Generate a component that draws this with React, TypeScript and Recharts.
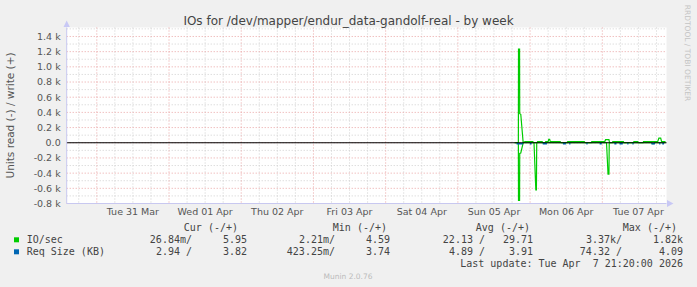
import React from 'react';
import { LineChart, Line, XAxis, YAxis, CartesianGrid, ReferenceLine } from 'recharts';

// ---- text ----
const TITLE = 'IOs for /dev/mapper/endur_data-gandolf-real - by week';
const Y_LABEL = 'Units read (-) / write (+)';
const WATERMARK = 'RRDTOOL / TOBI OETIKER';
const FOOTER = 'Munin 2.0.76';
const LAST_UPDATE = 'Last update: Tue Apr  7 21:20:00 2026';

// ---- axes (x in hours since Mon 30 Mar 00:00) ----
const X_DOMAIN: [number, number] = [14.0, 213.33];
const DAY_TICKS = [36, 60, 84, 108, 132, 156, 180, 204];
const DAY_LABELS = ['Tue 31 Mar', 'Wed 01 Apr', 'Thu 02 Apr', 'Fri 03 Apr', 'Sat 04 Apr', 'Sun 05 Apr', 'Mon 06 Apr', 'Tue 07 Apr'];
const MIDNIGHTS = [24, 48, 72, 96, 120, 144, 168, 192];
const SIX_HOURS = [18, 30, 36, 42, 54, 60, 66, 78, 84, 90, 102, 108, 114, 126, 132, 138, 150, 156, 162, 174, 180, 186, 198, 204, 210];

const Y_DOMAIN: [number, number] = [-800, 1518];
const Y_TICKS = [-800, -600, -400, -200, 0, 200, 400, 600, 800, 1000, 1200, 1400];
const Y_TICK_LABELS = ['-0.8 k', '-0.6 k', '-0.4 k', '-0.2 k', '0.0', '0.2 k', '0.4 k', '0.6 k', '0.8 k', '1.0 k', '1.2 k', '1.4 k'];
const Y_MINOR = [-700, -500, -300, -100, 100, 300, 500, 700, 900, 1100, 1300, 1500];

// ---- series: IO/sec write (+) ----
const ioWrite: [number, number][] = [
  [162.9, 0], [164.1, 0], [164.15, 1235], [164.5, 1235], [164.55, 382], [164.9, 375], [165.7, 0],
  [166.3, 15], [168.9, 15], [169.2, 0], [170.3, 0], [170.5, 15], [172.0, 15], [172.2, 0], [173.0, 0],
  [173.2, 15], [174.0, 15], [174.2, 45], [174.5, 45], [174.7, 15], [178.0, 15], [178.3, 0], [180.3, 0],
  [180.5, 15], [186.0, 15], [186.3, 0], [188.3, 0], [188.5, 15], [192.8, 15], [193.1, 40], [194.2, 40],
  [194.4, 0], [195.3, 0], [195.5, 15], [199.0, 15], [199.2, 0], [202.3, 0], [202.5, 15], [203.8, 15],
  [204.0, 0], [205.5, 0], [205.7, 15], [210.4, 15], [210.8, 62], [211.4, 62], [211.7, 15], [213.0, 15],
];

// ---- series: IO/sec read (-) ----
const ioRead: [number, number][] = [
  [162.9, 0], [164.1, 0], [164.15, -760], [164.5, -760], [164.55, -141], [164.9, -135], [165.7, 0],
  [169.3, 0], [169.9, -620], [170.1, -620], [170.2, 0], [193.4, 0], [193.9, -415], [194.2, -415],
  [194.3, 0], [208.4, 0], [208.6, -12], [209.1, -12], [209.3, 0], [213.0, 0],
];

// ---- series: Req Size (KB) read (-), visible fragments ----
const reqRead: [number, number][] = [
  [163.5, -12], [165.7, -12], [167.9, -12], [168.5, -12], [172.2, -12], [173.6, -12], [178.9, -12], [179.9, -12],
  [181.0, -12], [181.4, -12], [186.7, -12], [187.1, -12], [191.1, -12], [191.8, -12], [196.0, -12], [196.7, -12],
  [197.7, -12], [198.8, -12], [200.3, -12], [200.7, -12], [202.0, -12], [202.4, -12], [208.3, -12], [209.5, -12],
  [210.9, -12], [211.3, -12], [211.9, -12], [212.5, -12],
];

// ---- legend table ----
const LEGEND_HEADERS = ['Cur (-/+)', 'Min (-/+)', 'Avg (-/+)', 'Max (-/+)'];
const LEGEND_NAMES = ['IO/sec', 'Req Size (KB)'];
const LEGEND_COLORS = ['#00cc00', '#0066b3'];
const LEGEND_VALUES = [
  ['26.84m/', '5.95', '2.21m/', '4.59', '22.13 /', '29.71', '3.37k/', '1.82k'],
  ['2.94 /', '3.82', '423.25m/', '3.74', '4.89 /', '3.91', '74.32 /', '4.09'],
];

const toRows = (pts: [number, number][]) => pts.map(([t, v]) => ({ t, v }));
const toDashes = (pts: [number, number][]) => {
  const out: { t: number; v: number | null }[] = [];
  for (let i = 0; i < pts.length; i += 2) {
    out.push({ t: pts[i][0], v: pts[i][1] });
    out.push({ t: pts[i + 1][0], v: pts[i + 1][1] });
    out.push({ t: pts[i + 1][0] + 0.01, v: null });
  }
  return out;
};

const writeRows = toRows(ioWrite);
const readRows = toRows(ioRead);
const reqRows = toDashes(reqRead);

const MONO = '"DejaVu Sans Mono", monospace';
const SANS = '"DejaVu Sans", sans-serif';

const HEADER_END = [238, 387, 530, 677];
const VALUE_END = [192, 247, 335, 390, 485, 533, 622, 683];

export default function App() {
  return (
    <div style={{ position: 'absolute', left: 0, top: 0, width: 697, height: 287, background: '#f0f0f0', overflow: 'hidden' }}>
      <LineChart
        width={697}
        height={287}
        margin={{ top: 27.5, right: 30.5, left: 0, bottom: 63.5 }}
      >
        <CartesianGrid
          horizontalValues={Y_MINOR}
          verticalValues={SIX_HOURS}
          stroke="#cfcfcf"
          strokeDasharray="1 2"
          fill="#ffffff"
        />
        <CartesianGrid
          horizontalValues={Y_TICKS}
          verticalValues={MIDNIGHTS}
          stroke="#e9a3a3"
          strokeDasharray="1 2"
        />
        <XAxis
          dataKey="t"
          type="number"
          domain={X_DOMAIN}
          ticks={DAY_TICKS}
          allowDataOverflow
          tickFormatter={(v: number) => DAY_LABELS[DAY_TICKS.indexOf(v)] ?? ''}
          tickLine={false}
          tickSize={0}
          tickMargin={5}
          height={20}
          axisLine={{ stroke: '#c8c8f0' }}
          tick={{ fill: '#555555', fontSize: 9.5, fontFamily: SANS }}
          interval={0}
        />
        <YAxis
          type="number"
          domain={Y_DOMAIN}
          ticks={Y_TICKS}
          allowDataOverflow
          tickFormatter={(v: number) => Y_TICK_LABELS[Y_TICKS.indexOf(v)] ?? ''}
          tickLine={false}
          tickSize={0}
          tickMargin={6}
          width={66.7}
          axisLine={{ stroke: '#c8c8f0' }}
          tick={{ fill: '#555555', fontSize: 9.5, fontFamily: SANS }}
          interval={0}
        />
        <Line data={readRows} dataKey="v" type="linear" stroke="#00cc00" strokeWidth={1.2} dot={false} activeDot={false} isAnimationActive={false} />
        <Line data={writeRows} dataKey="v" type="linear" stroke="#00cc00" strokeWidth={1.2} dot={false} activeDot={false} isAnimationActive={false} />
        <Line data={reqRows} dataKey="v" type="linear" stroke="#0066b3" strokeWidth={1.5} dot={false} activeDot={false} connectNulls={false} isAnimationActive={false} />
        <ReferenceLine y={0} stroke="#000000" strokeWidth={1} ifOverflow="visible" />
      </LineChart>
      <svg width={697} height={287} style={{ position: 'absolute', left: 0, top: 0, pointerEvents: 'none' }}>
        <text x={348.5} y={25} textAnchor="middle" fontFamily={SANS} fontSize={12} fill="#444444">{TITLE}</text>
        <text transform="translate(14,115.5) rotate(-90)" textAnchor="middle" fontFamily={SANS} fontSize={10.5} fill="#555555">{Y_LABEL}</text>
        <text transform="translate(685,53) rotate(90)" textAnchor="middle" fontFamily={SANS} fontSize={7.5} fill="#c4c4c4">{WATERMARK}</text>
        <polygon points="63.5,27 66.7,20.5 69.9,27" fill="#c8c8f5" />
        <polygon points="667,200 673.5,203.5 667,207" fill="#c8c8f5" />
        {LEGEND_HEADERS.map((h, i) => (
          <text key={h} x={HEADER_END[i]} y={231} textAnchor="end" fontFamily={MONO} fontSize={10} fill="#444444">{h}</text>
        ))}
        {LEGEND_NAMES.map((n, r) => (
          <g key={n}>
            <rect x={14} y={237.3 + r * 12} width={5} height={5} fill={LEGEND_COLORS[r]} />
            <text x={26.7} y={243 + r * 12} fontFamily={MONO} fontSize={10} fill="#444444">{n}</text>
            {LEGEND_VALUES[r].map((v, c) => (
              <text key={c} x={VALUE_END[c]} y={243 + r * 12} textAnchor="end" fontFamily={MONO} fontSize={10} fill="#444444" style={{ whiteSpace: 'pre' }}>{v}</text>
            ))}
          </g>
        ))}
        <text x={683} y={267} textAnchor="end" fontFamily={MONO} fontSize={10} fill="#444444" style={{ whiteSpace: 'pre' }}>{LAST_UPDATE}</text>
        <text x={348} y={279} textAnchor="middle" fontFamily={SANS} fontSize={7.5} fill="#bbbbbb">{FOOTER}</text>
      </svg>
    </div>
  );
}
